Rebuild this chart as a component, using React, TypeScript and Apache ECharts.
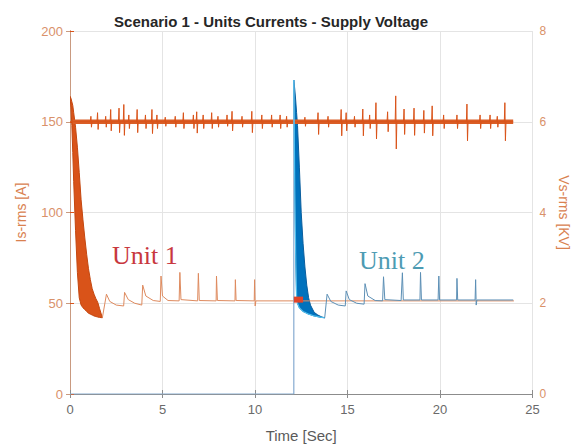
import React, { useEffect, useRef } from "react";
import * as echarts from "echarts";

// ---- Data ----
const xTicksMax = 25;

// Unit 1 start-up band (lower / upper envelope), t in s, current in A
const u1BandT = [0, 0.05, 0.1, 0.15, 0.2, 0.3, 0.4, 0.5, 0.6, 0.7, 0.8, 0.9, 1.0, 1.1, 1.2, 1.3, 1.4, 1.5, 1.6, 1.75];
const u1BandLow = [164, 158, 148, 133, 117, 90, 67, 53, 49, 47.5, 46.5, 45.5, 44.5, 44, 43.5, 43, 42.7, 42.4, 42.2, 42];
const u1BandHigh = [164, 163, 161, 159, 155, 147, 136, 122, 107, 96, 86, 77, 69, 63, 58, 55, 52.5, 50.5, 47, 42];

// Unit 1 steady part with re-strike spikes
const u1TailT = [1.75, 1.97, 2.15, 2.5, 2.9, 2.95, 3.15, 3.5, 3.88, 3.93, 4.1, 4.5, 4.88, 4.92, 5.0, 5.3, 5.9, 5.94, 6.0, 6.9, 6.94, 6.99, 7.9, 7.92, 7.97, 8.92, 8.94, 8.98, 9.96, 9.98, 10.01, 10.05, 24.0];
const u1TailV = [42, 55, 51, 49, 48.5, 56, 52, 50, 49, 60, 54, 51.5, 51, 65, 54, 51.5, 51.3, 67, 52, 51.3, 66.5, 51.5, 51.3, 65, 51.5, 51.3, 63, 51.5, 51.3, 63, 48.5, 51.3, 51.3];

// Unit 2: zero until start, then vertical jump
const u2PreT = [0, 12.1, 12.1];
const u2PreV = [0, 0, 173];

// Unit 2 start-up band
const u2BandT = [12.1, 12.15, 12.2, 12.25, 12.3, 12.4, 12.5, 12.6, 12.7, 12.8, 12.9, 13.0, 13.2, 13.4, 13.6, 13.77];
const u2BandLow = [173, 115, 78, 54, 50, 47.5, 46.5, 45.5, 45, 44.5, 44, 43.7, 43, 42.6, 42.2, 42];
const u2BandHigh = [173, 168, 162, 155, 148, 125, 100, 83, 70, 60, 53, 49, 45, 43.5, 42.5, 42];

// Unit 2 steady part with spikes
const u2TailT = [13.77, 13.9, 14.1, 14.5, 14.88, 14.93, 15.1, 15.5, 15.9, 15.95, 16.1, 16.5, 16.9, 16.95, 17.02, 17.9, 17.97, 18.02, 18.92, 18.95, 19.0, 19.9, 19.94, 19.98, 20.9, 20.92, 20.96, 21.9, 21.93, 21.96, 22.0, 23.96];
const u2TailV = [42, 55, 51, 49, 48.5, 56.8, 52, 50, 49.5, 60.8, 54, 51.5, 51.3, 64.6, 52, 51.5, 66.8, 51.8, 51.8, 67, 51.8, 51.8, 65, 51.8, 51.8, 63.7, 51.8, 51.8, 63, 49, 51.8, 51.8];

// Overlap blob near Unit 2 start
const blobT = [12.1, 12.6];
const blobV = [52, 52];

// Supply voltage (kV): level, band extent and noise spikes
const voltLevel = 6;
const voltStart = 0;
const voltBandT = [0.15, 23.96];
const voltSpikeT = [1.13, 1.49, 1.93, 2.2, 2.65, 2.91, 3.18, 3.63, 4.08, 4.43, 4.7, 5.15, 5.69, 6.13, 6.67, 6.85, 7.2, 7.66, 8.0, 8.49, 8.76, 9.3, 9.83, 10.37, 10.9, 11.36, 11.71, 12.7, 13.41, 13.95, 14.66, 14.93, 15.38, 15.83, 16.2, 16.54, 17.17, 17.61, 18.06, 18.6, 19.13, 19.58, 20.2, 20.92, 21.46, 22.17, 22.71, 23.1, 23.51];
const voltSpikeHi = [0.12, 0.2, 0.12, 0.27, 0.3, 0.38, 0.15, 0.27, 0.15, 0.27, 0.15, 0.1, 0.12, 0.2, 0.15, 0.22, 0.15, 0.2, 0.12, 0.15, 0.23, 0.12, 0.23, 0.15, 0.15, 0.15, 0.12, 0.1, 0.2, 0.12, 0.27, 0.2, 0.12, 0.28, 0.15, 0.42, 0.22, 0.57, 0.28, 0.3, 0.25, 0.35, 0.15, 0.15, 0.39, 0.15, 0.15, 0.12, 0.42];
const voltSpikeLo = [0.12, 0.17, 0.12, 0.2, 0.24, 0.3, 0.15, 0.24, 0.15, 0.26, 0.15, 0.1, 0.12, 0.15, 0.15, 0.25, 0.15, 0.15, 0.12, 0.1, 0.2, 0.12, 0.24, 0.15, 0.12, 0.15, 0.12, 0.1, 0.28, 0.12, 0.31, 0.2, 0.12, 0.31, 0.15, 0.38, 0.22, 0.6, 0.28, 0.3, 0.25, 0.31, 0.15, 0.15, 0.42, 0.15, 0.15, 0.12, 0.42];

const ORANGE = "#D95319";
const BLUE = "#0072BD";

function pairs(t: number[], v: number[]) {
  return t.map((x, i) => [x, v[i]]);
}

function bandSeries(name: string, t: number[], low: number[], high: number[], fill: string, stroke: string) {
  return {
    type: "custom",
    name,
    coordinateSystem: "cartesian2d",
    silent: true,
    clip: true,
    data: [[t[0], high[0]]],
    renderItem: (_params: any, api: any) => {
      const upper = t.map((x, i) => api.coord([x, high[i]]));
      const lower = t.map((x, i) => api.coord([x, low[i]])).reverse();
      return {
        type: "polygon",
        shape: { points: upper.concat(lower) },
        style: { fill, stroke, lineWidth: 1 },
      };
    },
  };
}

export default function App() {
  const ref = useRef<HTMLDivElement>(null);
  useEffect(() => {
    if (!ref.current) return;
    const chart = echarts.init(ref.current, null, { renderer: "svg" });

    const voltData: number[][] = [[voltStart, voltLevel]];
    voltSpikeT.forEach((t, i) => {
      voltData.push([t - 0.03, voltLevel]);
      voltData.push([t, voltLevel + voltSpikeHi[i]]);
      voltData.push([t + 0.03, voltLevel - voltSpikeLo[i]]);
      voltData.push([t + 0.06, voltLevel]);
    });
    voltData.push([voltBandT[1], voltLevel]);

    const font = "Liberation Sans, Arial, sans-serif";
    const serif = "Liberation Serif, Times New Roman, serif";
    const lineBase = { type: "line", showSymbol: false, silent: true };

    chart.setOption({
      animation: false,
      backgroundColor: "#ffffff",
      title: {
        text: "Scenario 1 - Units Currents - Supply Voltage",
        left: 266,
        textAlign: "center",
        top: 9,
        textStyle: { fontFamily: font, fontSize: 15, fontWeight: "bold", color: "#262626" },
      },
      grid: { left: 70, right: 43, top: 31, bottom: 53 },
      xAxis: [
        {
          type: "value",
          min: 0,
          max: xTicksMax,
          interval: 5,
          name: "Time [Sec]",
          nameLocation: "middle",
          nameGap: 34,
          nameTextStyle: { fontFamily: font, fontSize: 15, color: "#5a5a5a" },
          axisLine: { show: true, lineStyle: { color: "#8c8c8c", width: 1 } },
          axisTick: { show: true, inside: true, length: 4, lineStyle: { color: "#8c8c8c" } },
          axisLabel: { fontFamily: font, fontSize: 13, color: "#6a6a6a", margin: 9 },
          splitLine: { show: true, lineStyle: { color: "#e4e4e4", width: 1 } },
        },
        {
          type: "value",
          position: "top",
          min: 0,
          max: xTicksMax,
          interval: 5,
          axisLine: { show: true, lineStyle: { color: "#8c8c8c", width: 1 } },
          axisTick: { show: true, inside: true, length: 4, lineStyle: { color: "#8c8c8c" } },
          axisLabel: { show: false },
          splitLine: { show: false },
        },
      ],
      yAxis: [
        {
          type: "value",
          min: 0,
          max: 200,
          interval: 50,
          name: "Is-rms [A]",
          nameLocation: "middle",
          nameRotate: 90,
          nameGap: 42,
          nameTextStyle: { fontFamily: font, fontSize: 14, color: "#D9814F" },
          axisLine: { show: true, lineStyle: { color: ORANGE, width: 1 } },
          axisTick: { show: true, inside: true, length: 4, lineStyle: { color: ORANGE } },
          axisLabel: { fontFamily: font, fontSize: 13, color: "#D9916A", margin: 7 },
          splitLine: { show: true, lineStyle: { color: "#e4e4e4", width: 1 } },
        },
        {
          type: "value",
          min: 0,
          max: 8,
          interval: 2,
          position: "right",
          name: "Vs-rms [KV]",
          nameLocation: "middle",
          nameRotate: -90,
          nameGap: 18,
          nameTextStyle: { fontFamily: font, fontSize: 14, color: "#D9814F" },
          axisLine: { show: true, lineStyle: { color: "#C99A80", width: 1 } },
          axisTick: { show: true, inside: true, length: 4, lineStyle: { color: "#C99A80" } },
          axisLabel: { fontFamily: font, fontSize: 12, color: "#D9916A", margin: 7 },
          splitLine: { show: false },
        },
      ],
      graphic: [
        {
          type: "text",
          left: 112,
          top: 242,
          style: { text: "Unit 1", fontFamily: serif, fontSize: 26, fill: "#C8383E" },
        },
        {
          type: "text",
          left: 359,
          top: 247,
          style: { text: "Unit 2", fontFamily: serif, fontSize: 26, fill: "#4D9BB3" },
        },
      ],
      series: [
        {
          ...lineBase,
          name: "Vs band",
          yAxisIndex: 1,
          data: pairs(voltBandT, [voltLevel, voltLevel]),
          lineStyle: { color: "#DA5E27", width: 4.5 },
        },
        {
          ...lineBase,
          name: "Vs-rms",
          yAxisIndex: 1,
          data: voltData,
          lineStyle: { color: ORANGE, width: 1 },
        },
        bandSeries("Unit 1 band", u1BandT, u1BandLow, u1BandHigh, ORANGE, "#C4470F"),
        {
          ...lineBase,
          name: "Unit 1",
          data: pairs(u1TailT, u1TailV),
          lineStyle: { color: "#DE8A5E", width: 1 },
        },
        {
          ...lineBase,
          name: "Unit 2 pre",
          data: pairs(u2PreT, u2PreV),
          lineStyle: { color: "#86ABD0", width: 1.2 },
        },
        bandSeries("Unit 2 band", u2BandT, u2BandLow, u2BandHigh, BLUE, "#0A5E9E"),
        {
          ...lineBase,
          name: "Unit 2 low edge",
          data: pairs(u2BandT, u2BandLow),
          lineStyle: { color: "#4DBEEE", width: 1.2 },
        },
        {
          ...lineBase,
          name: "Unit 2",
          data: pairs(u2TailT, u2TailV),
          lineStyle: { color: "#5C8FB5", width: 1 },
        },
        {
          ...lineBase,
          name: "blob",
          data: pairs(blobT, blobV),
          lineStyle: { color: "#E0452A", width: 6 },
        },
      ],
    });
    return () => chart.dispose();
  }, []);
  return <div ref={ref} style={{ position: "fixed", left: 0, top: 0, width: 579, height: 448 }} />;
}
